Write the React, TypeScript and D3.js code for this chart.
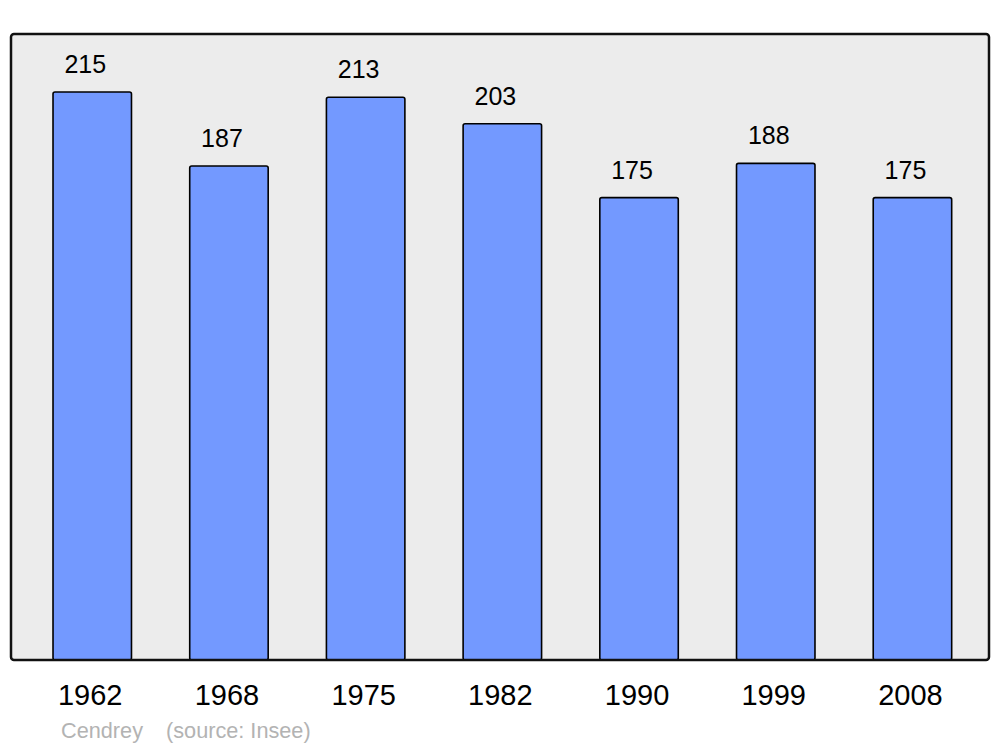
import React from "react";
import * as d3 from "d3";

const years = ["1962", "1968", "1975", "1982", "1990", "1999", "2008"];
const population = [215, 187, 213, 203, 175, 188, 175];
const footerName = "Cendrey";
const footerSource = "(source: Insee)";

export default function App() {
  const W = 1000, H = 747;
  const frame = { x0: 11, y0: 34, x1: 989, y1: 660 };
  const x = d3
    .scaleBand<string>()
    .domain(years)
    .range([23.9, 980.8])
    .paddingInner(0.426)
    .paddingOuter(0.213);
  const y = d3.scaleLinear().domain([0, 215]).range([660, 92]);

  return (
    <svg
      width={W}
      height={H}
      style={{ position: "absolute", left: 0, top: 0 }}
      fontFamily="'Liberation Sans', Arial, sans-serif"
    >
      <rect x={0} y={0} width={W} height={H} fill="#ffffff" />
      <rect
        x={frame.x0}
        y={frame.y0}
        width={frame.x1 - frame.x0}
        height={frame.y1 - frame.y0}
        rx={3}
        ry={3}
        fill="#ececec"
        stroke="none"
      />
      {years.map((yr, i) => (
        <g key={yr}>
          <rect
            x={x(yr)!}
            y={y(population[i])}
            width={x.bandwidth()}
            height={y(0) - y(population[i])}
            rx={2}
            ry={2}
            fill="#7399ff"
            stroke="#000"
            strokeWidth={1.6}
          />
          <text
            x={x(yr)! + x.bandwidth() / 2 - 7}
            y={y(population[i]) - 19}
            textAnchor="middle"
            fontSize={25}
            fill="#000"
          >
            {population[i]}
          </text>
          <text
            x={x(yr)! + x.bandwidth() / 2 - 2}
            y={704.5}
            textAnchor="middle"
            fontSize={29}
            fill="#000"
          >
            {yr}
          </text>
        </g>
      ))}
      <rect
        x={frame.x0}
        y={frame.y0}
        width={frame.x1 - frame.x0}
        height={frame.y1 - frame.y0}
        rx={3}
        ry={3}
        fill="none"
        stroke="#111"
        strokeWidth={2.5}
      />
      <text x={61} y={737.5} fontSize={21.7} fill="#b3b3b3">
        {footerName}
      </text>
      <text x={166} y={737.5} fontSize={21.7} fill="#b3b3b3">
        {footerSource}
      </text>
    </svg>
  );
}
